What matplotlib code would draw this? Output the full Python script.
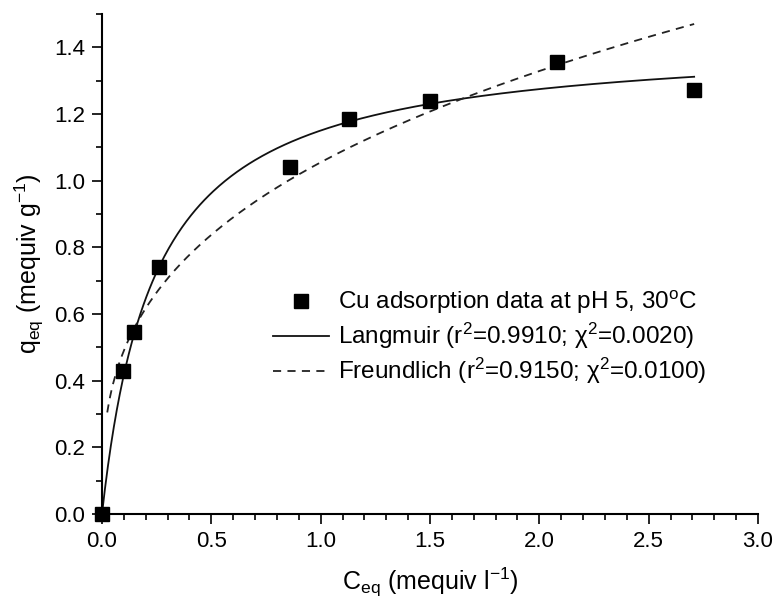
import numpy as np
import matplotlib
matplotlib.use("Agg")
import matplotlib.pyplot as plt
from matplotlib.ticker import MultipleLocator, FormatStrFormatter

plt.rcParams['font.family'] = ['Liberation Sans', 'DejaVu Sans']
plt.rcParams['mathtext.fontset'] = 'custom'
plt.rcParams['mathtext.rm'] = 'Liberation Sans'
plt.rcParams['mathtext.it'] = 'Liberation Sans:italic'
plt.rcParams['mathtext.bf'] = 'Liberation Sans:bold'

c_eq = [0.0, 0.096, 0.148, 0.259, 0.86, 1.13, 1.50, 2.08, 2.708]
q_eq = [0.0, 0.429, 0.546, 0.741, 1.04, 1.185, 1.24, 1.355, 1.271]

# Fitted model parameters (estimated from the drawn curves)
langmuir_qmax = 1.429
langmuir_K = 4.13
freundlich_KF = 1.055
freundlich_inv_n = 0.333
curve_c_min_langmuir = 0.0
curve_c_min_freundlich = 0.024
curve_c_max = 2.708

labels = ['Cu adsorption data at pH 5, 30$^{\\rm o}$C',
          'Langmuir (r$^{2}$=0.9910; χ$^{2}$=0.0020)',
          'Freundlich (r$^{2}$=0.9150; χ$^{2}$=0.0100)']

fig = plt.figure(figsize=(7.74, 6.05), dpi=100)
ax = fig.add_axes([102/774, 1-514/605, 656/774, 500/605])

cl = np.linspace(curve_c_min_langmuir, curve_c_max, 400)
ql = langmuir_qmax * langmuir_K * cl / (1 + langmuir_K * cl)
cf = np.linspace(curve_c_min_freundlich, curve_c_max, 400)
qf = freundlich_KF * cf ** freundlich_inv_n

ax.plot(c_eq, q_eq, 's', color='black', markersize=9.5, clip_on=False, zorder=5, label=labels[0])
ax.plot(cl, ql, '-', color='#111111', lw=1.3, label=labels[1])
ax.plot(cf, qf, '--', color='#222222', lw=1.3, dashes=(4.5, 3.5), label=labels[2])

ax.set_xlim(0, 3.0)
ax.set_ylim(0, 1.5)
ax.xaxis.set_major_locator(MultipleLocator(0.5))
ax.xaxis.set_minor_locator(MultipleLocator(0.1))
ax.yaxis.set_major_locator(MultipleLocator(0.2))
ax.yaxis.set_minor_locator(MultipleLocator(0.1))
ax.xaxis.set_major_formatter(FormatStrFormatter('%.1f'))
ax.yaxis.set_major_formatter(FormatStrFormatter('%.1f'))

for s in ['top', 'right']:
    ax.spines[s].set_visible(False)
for s in ['left', 'bottom']:
    ax.spines[s].set_linewidth(1.5)

ax.tick_params(which='major', direction='out', length=7, width=1.2, labelsize=16, pad=5)
ax.tick_params(which='minor', direction='out', length=4, width=1.2)

ax.set_xlabel('C$_{\\rm eq}$ (mequiv l$^{-1}$)', fontsize=18, labelpad=10)
ax.set_ylabel('q$_{\\rm eq}$ (mequiv g$^{-1}$)', fontsize=18, labelpad=6)

leg = ax.legend(loc='upper left', bbox_to_anchor=(0.261, 0.45), frameon=False,
                fontsize=17.5, handlelength=2.3, handletextpad=0.35, labelspacing=0.2,
                borderaxespad=0, borderpad=0, numpoints=1)

fig.savefig('out.png', dpi=100)
